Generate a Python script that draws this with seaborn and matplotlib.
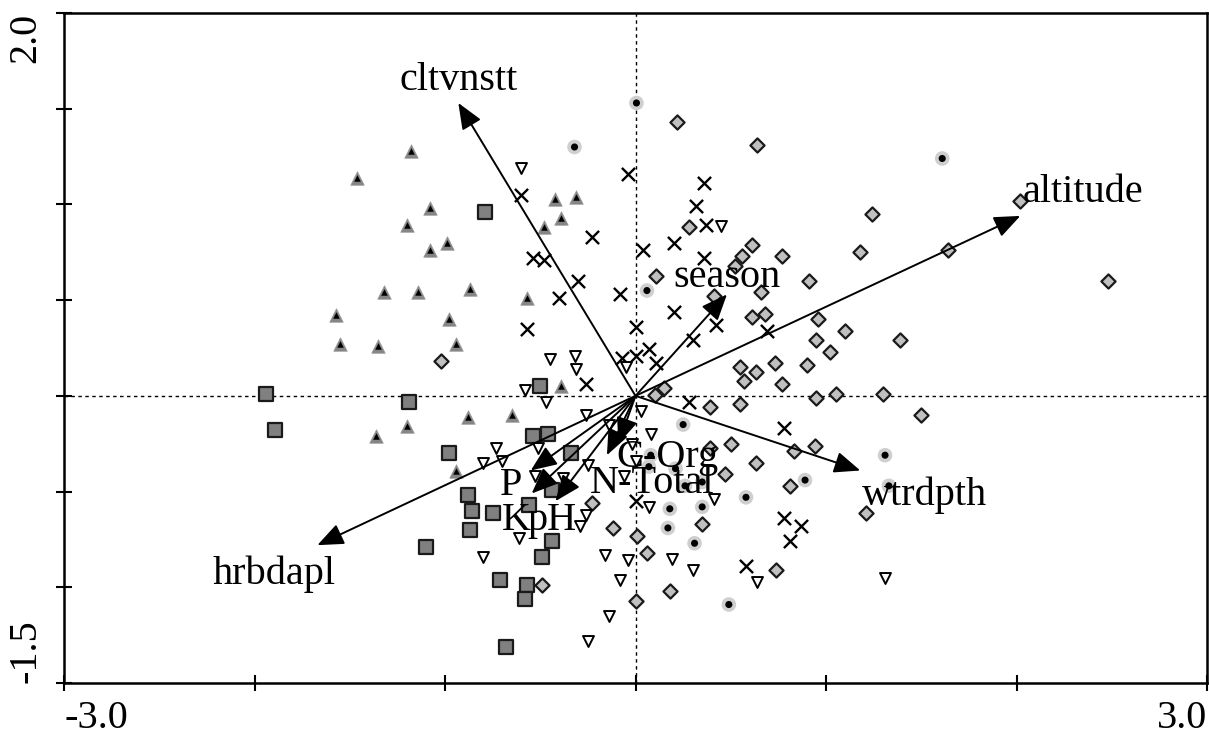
import matplotlib
matplotlib.use("Agg")
import numpy as np
import pandas as pd
import seaborn as sns
import matplotlib.pyplot as plt

# ---- sample scores (axis 1, axis 2) per group ----
tri_x = [-1.18, -1.46, -1.08, -1.20, -0.99, -1.08, -1.32, -1.14, -0.87, -1.57, -0.98, -1.55, -1.35,
         -0.94, -0.39, -0.88, -0.65, -1.20, -1.36, -0.94, -0.57, -0.42, -0.31, -0.39, -0.48]
tri_y = [1.28, 1.14, 0.98, 0.89, 0.80, 0.76, 0.54, 0.54, 0.56, 0.42, 0.40, 0.27, 0.26,
         0.27, 0.05, -0.11, -0.10, -0.16, -0.21, -0.39, 0.51, 1.03, 1.04, 0.93, 0.88]

sq_x = [-0.79, -1.94, -1.19, -1.89, -0.50, -0.54, -0.46, -0.98, -0.34, -0.44, -0.56, -0.88, -0.86,
        -0.75, -0.87, -0.44, -1.10, -0.49, -0.71, -0.57, -0.58, -0.68]
sq_y = [0.96, 0.01, -0.03, -0.18, 0.05, -0.21, -0.20, -0.30, -0.30, -0.49, -0.57, -0.52, -0.60,
        -0.61, -0.70, -0.76, -0.79, -0.84, -0.96, -0.99, -1.06, -1.31]

dia_x = [0.22, 0.64, 0.28, 0.61, 0.56, 0.52, 0.77, 0.11, 0.66, 0.41, 0.61, 0.68, -1.02, 1.24, 1.18,
         0.91, 1.64, 2.02, 2.48, 0.96, 1.10, 0.95, 1.02, 1.39, 0.90, 0.73, 0.55, 0.63, 0.57, 0.77,
         0.95, 1.05, 1.30, 0.15, 0.10, 0.55, 0.39, 1.50, 0.50, 0.39, 0.94, 0.83, 0.63, 0.47, 0.81,
         1.21, 0.35, -0.23, -0.12, 0.01, 0.06, -0.49, 0.18, 0.00, 0.74]
dia_y = [1.43, 1.31, 0.88, 0.79, 0.73, 0.68, 0.73, 0.625, 0.54, 0.52, 0.41, 0.43, 0.18, 0.95, 0.75,
         0.60, 0.76, 1.02, 0.60, 0.40, 0.34, 0.29, 0.23, 0.29, 0.16, 0.17, 0.15, 0.125, 0.08, 0.06,
         -0.01, 0.01, 0.01, 0.04, 0.005, -0.04, -0.06, -0.10, -0.25, -0.27, -0.26, -0.29, -0.35, -0.41, -0.47,
         -0.61, -0.67, -0.56, -0.69, -0.73, -0.82, -0.99, -1.02, -1.07, -0.91]

dot_x = [0.005, -0.32, 0.06, 1.61, 0.25, 0.08, 0.07, 0.21, 0.26, 0.35, 0.89, 0.58, 0.18, 0.35,
         0.17, 0.31, 0.49, 1.31, 1.33]
dot_y = [1.53, 1.30, 0.55, 1.24, -0.15, -0.31, -0.37, -0.38, -0.47, -0.45, -0.44, -0.53, -0.59, -0.58,
         -0.69, -0.77, -1.09, -0.31, -0.47]

crs_x = [-0.04, 0.36, 0.32, 0.37, -0.60, -0.23, 0.04, 0.20, 0.36, -0.54, -0.48, -0.30, -0.40, -0.08,
         0.20, 0.42, -0.57, 0.00, 0.30, 0.07, -0.07, 0.00, 0.11, -0.26, 0.69, 0.28, 0.78, 0.005, 0.78,
         0.87, 0.81, 0.58]
crs_y = [1.16, 1.11, 0.99, 0.89, 1.05, 0.83, 0.76, 0.80, 0.72, 0.72, 0.71, 0.60, 0.51, 0.53,
         0.44, 0.37, 0.35, 0.36, 0.29, 0.245, 0.20, 0.21, 0.17, 0.06, 0.34, -0.03, -0.17, -0.55, -0.64,
         -0.68, -0.76, -0.89]

inv_x = [-0.60, 0.45, -0.45, -0.32, -0.31, -0.58, -0.47, -0.05, -0.26, -0.14, 0.03, 0.08, -0.73, -0.51,
         -0.02, -0.80, -0.70, 0.005, -0.53, -0.06, -0.38, -0.25, 0.41, 0.07, -0.26, -0.29, -0.61, -0.80,
         -0.16, -0.04, 0.19, 0.30, -0.08, 0.64, -0.14, -0.25, 1.31]
inv_y = [1.19, 0.885, 0.19, 0.21, 0.14, 0.03, -0.03, 0.15, -0.10, -0.15, -0.08, -0.20, -0.27, -0.27,
         -0.25, -0.35, -0.34, -0.34, -0.42, -0.42, -0.43, -0.36, -0.54, -0.58, -0.62, -0.68, -0.74, -0.84,
         -0.83, -0.86, -0.85, -0.91, -0.96, -0.97, -1.15, -1.28, -0.95]

# ---- environmental variable arrows ----
env_names = ["cltvnstt", "altitude", "season", "wtrdpth", "hrbdapl", "P", "K", "pH", "C-Org", "N-Total"]
env_x = [-0.93, 2.02, 0.48, 1.18, -1.67, -0.55, -0.545, -0.42, -0.09, -0.15]
env_y = [1.53, 0.94, 0.53, -0.39, -0.78, -0.39, -0.51, -0.55, -0.25, -0.31]
lab_x = [-1.24, 2.03, 0.20, 1.19, -2.22, -0.71, -0.70, -0.57, -0.10, -0.24]
lab_y = [1.65, 1.06, 0.62, -0.52, -0.93, -0.47, -0.65, -0.65, -0.32, -0.46]

x_ticks = [-3, -2, -1, 0, 1, 2, 3]
x_ticklabels = ["-3.0", "", "", "", "", "", "3.0"]
y_ticks = [-1.5, -1.0, -0.5, 0.0, 0.5, 1.0, 1.5, 2.0]
y_ticklabels = ["-1.5", "", "", "", "", "", "", "2.0"]

sns.set_theme(style="white")
plt.rcParams["font.family"] = ["Liberation Serif", "DejaVu Serif"]
FS = 29

fig = plt.figure(figsize=(12.09, 7.33), dpi=100)
ax = fig.add_axes([64 / 1209, 50 / 733, 1143 / 1209, 670 / 733])

ax.axhline(0, color="black", lw=1.0, ls=(0, (2.5, 2.5)), zorder=1)
ax.axvline(0, color="black", lw=1.0, ls=(0, (2.5, 2.5)), zorder=1)

df_tri = pd.DataFrame({"x": tri_x, "y": tri_y})
df_sq = pd.DataFrame({"x": sq_x, "y": sq_y})
df_dia = pd.DataFrame({"x": dia_x, "y": dia_y})
df_dot = pd.DataFrame({"x": dot_x, "y": dot_y})
df_crs = pd.DataFrame({"x": crs_x, "y": crs_y})
df_inv = pd.DataFrame({"x": inv_x, "y": inv_y})

sns.scatterplot(data=df_tri, x="x", y="y", ax=ax, marker="^", s=95, color="#858585",
                edgecolor="#9a9a9a", linewidth=0.5, zorder=3, legend=False)
sns.scatterplot(data=df_tri, x="x", y="y", ax=ax, marker="^", s=22, color="black",
                edgecolor="black", linewidth=0, zorder=4, legend=False)
sns.scatterplot(data=df_sq, x="x", y="y", ax=ax, marker="s", s=90, color="#808080",
                edgecolor="#1a1a1a", linewidth=1.6, zorder=3, legend=False)
sns.scatterplot(data=df_dia, x="x", y="y", ax=ax, marker="D", s=52, color="#c0c0c0",
                edgecolor="#1a1a1a", linewidth=1.6, zorder=3, legend=False)
sns.scatterplot(data=df_dot, x="x", y="y", ax=ax, marker="o", s=110, color="#cfcfcf",
                edgecolor="none", linewidth=0, zorder=3, legend=False)
sns.scatterplot(data=df_dot, x="x", y="y", ax=ax, marker="o", s=26, color="black",
                edgecolor="none", linewidth=0, zorder=4, legend=False)
sns.scatterplot(data=df_crs, x="x", y="y", ax=ax, marker="x", s=90, color="black",
                linewidth=1.7, zorder=3, legend=False)
sns.scatterplot(data=df_inv, x="x", y="y", ax=ax, marker="v", s=62, color="white",
                edgecolor="black", linewidth=1.4, zorder=3, legend=False)

for name, ex, ey, lx, ly in zip(env_names, env_x, env_y, lab_x, lab_y):
    ax.annotate("", xy=(ex, ey), xytext=(0, 0),
                arrowprops=dict(arrowstyle="-|>,head_length=0.8,head_width=0.33",
                                mutation_scale=20, color="black", lw=1.4,
                                shrinkA=0, shrinkB=0), zorder=5)
    ax.text(lx, ly, name, fontsize=FS, ha="left", va="center", color="black", zorder=6)

ax.set_xlim(-3, 3)
ax.set_ylim(-1.5, 2.0)
ax.set_xticks(x_ticks)
ax.set_xticklabels(x_ticklabels)
ax.set_yticks(y_ticks)
ax.set_yticklabels(y_ticklabels, rotation=90)
ax.set_xlabel("")
ax.set_ylabel("")
ax.tick_params(axis="both", direction="inout", length=12, width=1.5, color="black",
               labelsize=FS, labelcolor="black", bottom=True, left=True)
ax.tick_params(axis="x", pad=6)
ax.tick_params(axis="y", pad=8)
xl = ax.get_xticklabels()
xl[0].set_ha("left")
xl[-1].set_ha("right")
yl = ax.get_yticklabels()
yl[0].set_va("bottom")
yl[-1].set_va("top")

for side in ["left", "bottom", "top", "right"]:
    ax.spines[side].set_visible(True)
    ax.spines[side].set_color("black")
    ax.spines[side].set_linewidth(1.8)

fig.savefig("out.png", dpi=100, facecolor="white")
